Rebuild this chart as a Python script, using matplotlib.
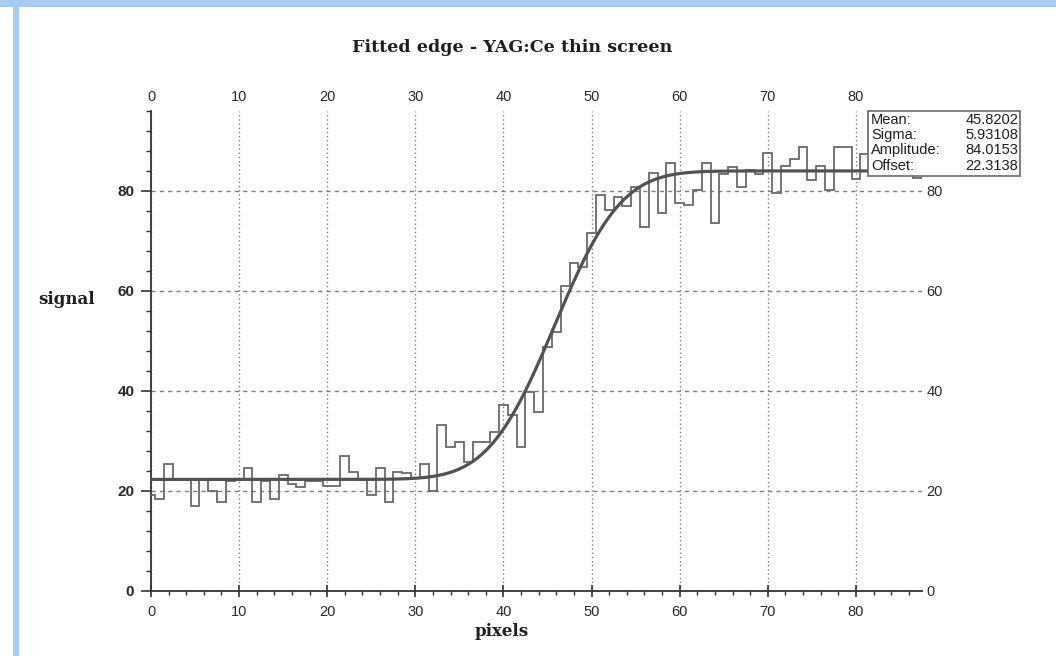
import math
import numpy as np
import matplotlib
matplotlib.use("Agg")
import matplotlib.pyplot as plt
from matplotlib.patches import Rectangle
from matplotlib.ticker import NullLocator

# signal per pixel column, bins centred on integer pixel numbers 0..87
signal = [
    19.2, 18.4, 25.4, 22.4, 22.2, 17.1, 22.2, 20.0, 17.9, 22.0,
    22.2, 24.6, 17.9, 22.1, 18.5, 23.2, 21.4, 20.8, 22.0, 22.0,
    21.0, 21.0, 27.1, 23.9, 22.3, 19.2, 24.6, 17.9, 23.8, 23.6,
    22.6, 25.4, 20.0, 33.2, 28.8, 29.9, 25.8, 29.9, 29.9, 31.9,
    37.2, 35.2, 28.9, 39.9, 35.9, 48.9, 51.8, 61.0, 65.7, 64.8,
    71.6, 79.2, 76.3, 78.9, 77.0, 80.8, 72.9, 83.7, 75.7, 85.6,
    77.7, 77.3, 80.2, 85.6, 73.7, 83.5, 84.9, 80.8, 84.2, 83.5,
    87.7, 79.7, 85.0, 86.5, 88.8, 82.3, 85.0, 80.3, 88.8, 88.8,
    82.5, 87.5, 86.0, 85.0, 87.5, 84.5, 86.5, 82.6,
]
bin_edges = np.arange(-0.5, len(signal) + 0.5, 1.0)

# error-function edge fit
fit_mean = 45.8202
fit_sigma = 5.93108
fit_amplitude = 84.0153
fit_offset = 22.3138

x_ticks = [0, 10, 20, 30, 40, 50, 60, 70, 80]
y_ticks = [0, 20, 40, 60, 80]

stat_names = ["Mean:", "Sigma:", "Amplitude:", "Offset:"]
stat_values = ["45.8202", "5.93108", "84.0153", "22.3138"]

plt.rcParams["font.family"] = ["Liberation Sans", "DejaVu Sans"]
text_col = "#2a2a2a"

fig = plt.figure(figsize=(10.56, 6.56), dpi=100)
ax = fig.add_axes([151 / 1056, 65 / 656, 771 / 1056, 480 / 656])
ax.set_xlim(0, 87.5)
ax.set_ylim(0, 96)

# histogram of the measured profile
ax.stairs(signal, bin_edges, baseline=None, color="#6a6a6a", lw=1.3, zorder=3)

# fitted edge
xs = np.linspace(0, 87.5, 600)
fit = [fit_offset + (fit_amplitude - fit_offset) * 0.5 *
       (1 + math.erf((x - fit_mean) / (fit_sigma * math.sqrt(2)))) for x in xs]
ax.plot(xs, fit, color="#525252", lw=2.3, zorder=4)

# axes styling
for side in ["top", "right"]:
    ax.spines[side].set_visible(False)
for side in ["left", "bottom"]:
    ax.spines[side].set_color("#333333")
    ax.spines[side].set_linewidth(1.3)

ax.set_xticks(x_ticks)
ax.set_xticks(np.arange(0, 88, 2), minor=True)
ax.set_yticks(y_ticks)
ax.set_yticks(np.arange(0, 97, 4), minor=True)
ax.tick_params(axis="x", which="major", direction="inout", length=8, width=1.2,
               colors="#333333", labelcolor=text_col, labelsize=10.5, pad=6)
ax.tick_params(axis="x", which="minor", direction="out", length=3, width=1, colors="#333333")
ax.tick_params(axis="y", which="major", direction="out", length=7, width=1.2,
               colors="#333333", labelcolor=text_col, labelsize=11, pad=5)
ax.tick_params(axis="y", which="minor", direction="out", length=3.5, width=1, colors="#333333")
for lbl in ax.get_yticklabels():
    lbl.set_fontweight("bold")

ax.grid(axis="x", which="major", linestyle=(0, (1, 2)), color="#7e7e7e", lw=1)
ax.grid(axis="y", which="major", linestyle=(0, (3, 3)), color="#7e7e7e", lw=1)

# tick labels repeated on top and right
top = ax.secondary_xaxis("top")
top.set_xticks(x_ticks)
top.xaxis.set_minor_locator(NullLocator())
top.tick_params(length=0, pad=5, labelsize=10.5, labelcolor=text_col)
top.spines["top"].set_visible(False)

right = ax.secondary_yaxis("right")
right.set_yticks(y_ticks)
right.yaxis.set_minor_locator(NullLocator())
right.tick_params(length=0, pad=3, labelsize=10.5, labelcolor=text_col)
right.spines["right"].set_visible(False)

# fit results box
box_x0, box_x1 = 81.4, 98.6
box_y0, box_y1 = 83.0, 96.0
ax.add_patch(Rectangle((box_x0, box_y0), box_x1 - box_x0, box_y1 - box_y0,
                       facecolor="white", edgecolor="#6a6a6a", lw=1.2,
                       clip_on=False, zorder=6))
row_y = [94.5, 91.5, 88.5, 85.3]
for name, val, y in zip(stat_names, stat_values, row_y):
    ax.text(box_x0 + 0.3, y, name, ha="left", va="center_baseline", fontsize=10.5,
            color="#1e1e1e", clip_on=False, zorder=7)
    ax.text(box_x1 - 0.2, y, val, ha="right", va="center_baseline", fontsize=10.5,
            color="#1e1e1e", clip_on=False, zorder=7)

serif = ["DejaVu Serif"]
fig.text(512 / 1056, 1 - 47 / 656, "Fitted edge - YAG:Ce thin screen", ha="center",
         va="center", family=serif, fontweight="bold", fontsize=12.6, color="#1e1e1e")
fig.text(67 / 1056, 1 - 300 / 656, "signal", ha="center", va="center",
         family=serif, fontweight="bold", fontsize=12, color="#1e1e1e")
fig.text(502 / 1056, 1 - 632 / 656, "pixels", ha="center", va="center",
         family=serif, fontweight="bold", fontsize=12, color="#1e1e1e")

# light blue frame strips
fig.patches.append(Rectangle((0, 1 - 7 / 656), 1, 7 / 656, transform=fig.transFigure,
                             facecolor="#a6cbf3", edgecolor="none"))
fig.patches.append(Rectangle((13 / 1056, 0), 6 / 1056, 1 - 7 / 656, transform=fig.transFigure,
                             facecolor="#a6cbf3", edgecolor="none"))

fig.savefig("out.png", dpi=100)
